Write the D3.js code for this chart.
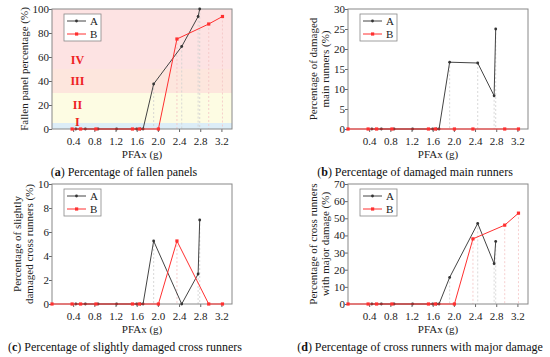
<!DOCTYPE html>
<html>
<head>
<meta charset="utf-8">
<script src="https://cdn.jsdelivr.net/npm/d3@7"></script>
<style>
  body { margin: 0; background: #fff; }
  text { font-family: "Liberation Serif", "DejaVu Serif", serif; }
</style>
</head>
<body>
<div id="chart"></div>
<script>
// PFAx values (g) of the test points
const xA = [0.45, 0.63, 0.87, 1.22, 1.6, 1.67, 1.72, 1.92, 2.45, 2.76, 2.79]
const xB = [0.38, 0.54, 0.83, 1.52, 1.65, 2.01, 2.36, 2.96, 3.22]
const xB0 = [0, 0.38, 0.54, 0.83, 1.52, 1.65, 2.01, 2.36, 2.96, 3.22]

const fallenA = [0, 0, 0, 0, 0, 0, 0, 37.5, 68.75, 93.75, 100]
const fallenB = [0, 0, 0, 0, 0, 0, 75, 87.5, 93.75]
const mainA = [0, 0, 0, 0, 0, 0, 0, 16.7, 16.5, 8.3, 25]
const mainB = [0, 0, 0, 0, 0, 0, 0, 0, 0, 0]
const slightA = [0, 0, 0, 0, 0, 0, 0, 5.25, 0, 2.5, 7]
const slightB = [0, 0, 0, 0, 0, 0, 0, 5.25, 0, 0]
const majorA = [0, 0, 0, 0, 0, 0, 0, 15.5, 47, 23.5, 36.5]
const majorB = [0, 0, 0, 0, 0, 0, 0, 38, 46, 53]

const xTicks = [0.4, 0.8, 1.2, 1.6, 2.0, 2.4, 2.8, 3.2]
const bandEdges = [0, 5, 30, 50, 100]
const bandLabels = ["I", "II", "III", "IV"]
const bandLabelY = [6, 20, 40, 57.5]
const bandColors = ["#dcedf7", "#fdfce3", "#fde6dd", "#fde3e3"]

const panels = [
  { left: 52, top: 9, yMax: 100, yStep: 20, xa: xA, ya: fallenA, xb: xB, yb: fallenB,
    ylab: ["Fallen panel percentage (%)"], letter: "a", cap: " Percentage of fallen panels", capX: 124, bands: true },
  { left: 348, top: 9, yMax: 30, yStep: 5, xa: xA, ya: mainA, xb: xB0, yb: mainB,
    ylab: ["Percentage of damaged", "main runners (%)"], letter: "b", cap: " Percentage of damaged main runners", capX: 415 },
  { left: 52, top: 184, yMax: 10, yStep: 2, xa: xA, ya: slightA, xb: xB0, yb: slightB,
    ylab: ["Percentage of slightly", "damaged cross runners (%)"], letter: "c", cap: " Percentage of slightly damaged cross runners", capX: 125 },
  { left: 348, top: 184, yMax: 70, yStep: 10, xa: xA, ya: majorA, xb: xB0, yb: majorB,
    ylab: ["Percentage of cross runners", "with major damage (%)"], letter: "d", cap: " Percentage of cross runners with major damage", capX: 420 }
]

const W = 180, H = 120

const svg = d3.select("#chart").append("svg")
  .attr("width", 550)
  .attr("height", 357)

panels.forEach(function(p) {
  const g = svg.append("g").attr("transform", `translate(${p.left}, ${p.top})`)

  const x = d3.scaleLinear().domain([0, 3.4]).range([0, W])
  const y = d3.scaleLinear().domain([0, p.yMax]).range([H, 0])

  if (p.bands) {
    for (let i = 0; i < bandLabels.length; i++) {
      g.append("rect")
        .attr("x", 0)
        .attr("y", y(bandEdges[i + 1]))
        .attr("width", W)
        .attr("height", y(bandEdges[i]) - y(bandEdges[i + 1]))
        .attr("fill", bandColors[i])
    }
    for (let i = 0; i < bandLabels.length; i++) {
      g.append("text")
        .attr("x", x(0.48))
        .attr("y", y(bandLabelY[i]))
        .attr("dy", "0.35em")
        .attr("text-anchor", "middle")
        .attr("fill", "#ee2222")
        .style("font-weight", "bold")
        .style("font-size", "12px")
        .text(bandLabels[i])
    }
  }

  const series = [
    { xs: p.xa, ys: p.ya, color: "#444", drop: "#cfcfcf", square: false },
    { xs: p.xb, ys: p.yb, color: "#ff3030", drop: "#f4c4c4", square: true }
  ]

  // dotted drop lines under the non-zero points
  series.forEach(function(s) {
    const pts = s.xs.map((v, i) => ({ x: v, y: s.ys[i] })).filter(d => d.y > 0)
    g.selectAll(null).data(pts).enter().append("line")
      .attr("x1", d => x(d.x)).attr("x2", d => x(d.x))
      .attr("y1", d => y(d.y)).attr("y2", y(0))
      .attr("stroke", s.drop)
      .attr("stroke-width", 0.8)
      .attr("stroke-dasharray", "2,2")
  })

  // axes
  const xAxis = g.append("g")
    .attr("transform", `translate(0, ${H})`)
    .call(d3.axisBottom(x).tickValues(xTicks).tickFormat(d3.format(".1f")).tickSize(3))
  const yAxis = g.append("g")
    .call(d3.axisLeft(y).tickValues(d3.range(0, p.yMax + 0.001, p.yStep)).tickSize(3))
  ;[xAxis, yAxis].forEach(function(a) {
    a.select(".domain").remove()
    a.selectAll("line").attr("stroke", "#666")
    a.selectAll("text").style("font-size", "11px").attr("fill", "#222")
      .style("font-family", "'Liberation Serif', serif")
  })
  xAxis.selectAll("text").attr("dy", "0.9em")
  yAxis.selectAll("text").attr("x", -3)

  g.append("rect")
    .attr("width", W).attr("height", H)
    .attr("fill", "none")
    .attr("stroke", "#888")
    .attr("stroke-width", 1)

  // lines and markers
  series.forEach(function(s) {
    const pts = s.xs.map((v, i) => ({ x: v, y: s.ys[i] }))
    g.append("path")
      .datum(pts)
      .attr("d", d3.line().x(d => x(d.x)).y(d => y(d.y)))
      .attr("fill", "none")
      .attr("stroke", s.color)
      .attr("stroke-width", 1)
    if (s.square) {
      g.selectAll(null).data(pts).enter().append("rect")
        .attr("x", d => x(d.x) - 1.6).attr("y", d => y(d.y) - 1.6)
        .attr("width", 3.2).attr("height", 3.2)
        .attr("fill", s.color)
    } else {
      g.selectAll(null).data(pts).enter().append("circle")
        .attr("cx", d => x(d.x)).attr("cy", d => y(d.y))
        .attr("r", 1.4)
        .attr("fill", "#333")
    }
  })

  // legend
  const lg = g.append("g").attr("transform", "translate(12, 5)")
  lg.append("rect")
    .attr("width", 37).attr("height", 27)
    .attr("fill", "#fff")
    .attr("stroke", "#888")
    .attr("stroke-width", 0.8)
  series.forEach(function(s, i) {
    const ly = 7 + i * 13
    lg.append("line")
      .attr("x1", 3).attr("x2", 22).attr("y1", ly).attr("y2", ly)
      .attr("stroke", s.color).attr("stroke-width", 1)
    if (s.square) {
      lg.append("rect").attr("x", 11).attr("y", ly - 1.6).attr("width", 3.2).attr("height", 3.2).attr("fill", s.color)
    } else {
      lg.append("circle").attr("cx", 12.5).attr("cy", ly).attr("r", 1.4).attr("fill", "#333")
    }
    lg.append("text")
      .attr("x", 26).attr("y", ly).attr("dy", "0.35em")
      .style("font-size", "11px").attr("fill", "#222")
      .text(i === 0 ? "A" : "B")
  })

  // axis titles
  g.append("text")
    .attr("x", W / 2).attr("y", H + 29)
    .attr("text-anchor", "middle")
    .style("font-size", "11px").attr("fill", "#222")
    .text("PFAx (g)")

  const n = p.ylab.length
  p.ylab.forEach(function(t, i) {
    const off = n === 1 ? -28 : -35 + i * 12
    g.append("text")
      .attr("transform", `translate(${off}, ${H / 2}) rotate(-90)`)
      .attr("text-anchor", "middle")
      .attr("dy", "0.35em")
      .style("font-size", "11px").attr("fill", "#222")
      .text(t)
  })

  // caption
  const cap = svg.append("text")
    .attr("x", p.capX).attr("y", p.top + H + 47)
    .attr("text-anchor", "middle")
    .style("font-size", "12px").attr("fill", "#111")
  cap.append("tspan").text("(")
  cap.append("tspan").style("font-weight", "bold").text(p.letter)
  cap.append("tspan").text(")" + p.cap)
})
</script>
</body>
</html>
